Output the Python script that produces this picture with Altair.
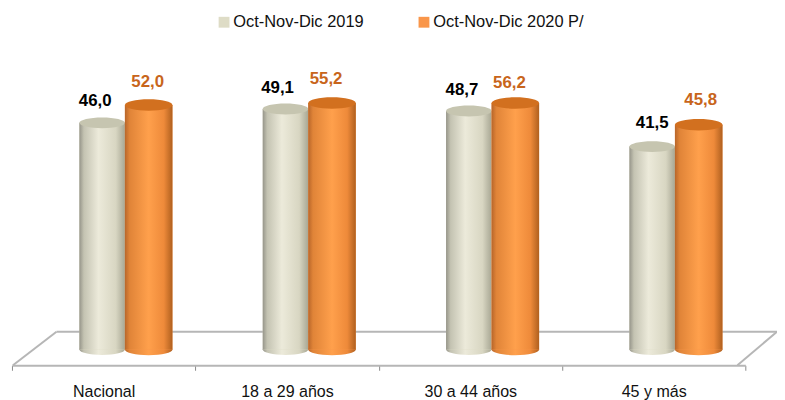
import altair as alt
import pandas as pd

categories = ["Nacional", "18 a 29 años", "30 a 44 años", "45 y más"]
series_a = "Oct-Nov-Dic 2019"
series_b = "Oct-Nov-Dic 2020 P/"
values_a = [46.0, 49.1, 48.7, 41.5]
values_b = [52.0, 55.2, 56.2, 45.8]
labels_a = ["46,0", "49,1", "48,7", "41,5"]
labels_b = ["52,0", "55,2", "56,2", "45,8"]

PW, PH = 777, 359
BASE_Y = 343
LINE = "#b6b6b6"
x_scale = alt.Scale(type="band", domain=categories, range=[4, 745], paddingInner=0, paddingOuter=0,
                    round=False, align=0.5)
# the picture's value axis is not linear: pixel heights are read from the drawn cylinders
y_scale = alt.Scale(domain=[0, 41.5, 45.8, 46, 48.7, 49.1, 52, 55.2, 56.2],
                    range=[BASE_Y, 138, 116, 114, 102, 100, 96, 94, 94])

a = pd.DataFrame({"cat": categories, "v": values_a, "label": labels_a, "s": series_a, "zero": 0})
b = pd.DataFrame({"cat": categories, "v": values_b, "label": labels_b, "s": series_b, "zero": 0})


def grad(stops):
    return alt.Gradient(gradient="linear", x1=0, x2=1, y1=0, y2=0,
                        stops=[alt.GradientStop(offset=o, color=c) for o, c in stops])


beige = grad([(0, "#96958a"), (0.1, "#c4c3b2"), (0.42, "#eceada"), (0.8, "#d8d6c2"), (1, "#a8a794")])
orange = grad([(0, "#b8662a"), (0.1, "#e08438"), (0.5, "#ffa04c"), (0.82, "#ee8a3a"), (1, "#b0601f")])
ELLIPSE = "M-1,0 A1,0.24 0 1,1 1,0 A1,0.24 0 1,1 -1,0 Z"

x_enc = alt.X("cat:N", scale=x_scale, sort=categories, title=None,
              axis=alt.Axis(labelAngle=0, tickBand="extent", domainColor=LINE, domainWidth=2,
                            tickColor="#8a8a8a", tickSize=5, labelColor="#111111", labelFontSize=16.2,
                            labelFont="Liberation Sans", labelPadding=14))
y_enc = alt.Y("v:Q", scale=y_scale, axis=None)
y0 = alt.Y2("zero:Q")

legend = alt.Legend(title=None, orient="none", legendX=210, legendY=4, direction="horizontal",
                    symbolType="square", symbolSize=120, labelFontSize=16.6, labelFont="Liberation Sans",
                    labelColor="#111111", columnPadding=52, labelOffset=1, symbolStrokeWidth=0)
color = alt.Color("s:N", scale=alt.Scale(domain=[series_a, series_b], range=["#dedcc6", "#f9964a"]), legend=legend)


def floor_line(x1, y1, x2, y2):
    return alt.Chart(pd.DataFrame({"k": [0]})).mark_rule(color=LINE, strokeWidth=2).encode(
        x=alt.value(x1), x2=alt.value(x2), y=alt.value(y1), y2=alt.value(y2))


def cyl(df, fill, cap, w, dx, tcolor, offsets):
    base = alt.Chart(df)
    layers = [
        base.mark_point(shape=ELLIPSE, size=w * w, filled=True, opacity=1, fill=fill, xOffset=dx,
                        strokeWidth=0).encode(x=x_enc, y=alt.Y("zero:Q", scale=y_scale, axis=None)),
        base.mark_bar(width=w, xOffset=dx).encode(x=x_enc, y=y_enc, y2=y0, color=color),
        base.mark_bar(width=w, xOffset=dx, fill=fill).encode(x=x_enc, y=y_enc, y2=y0),
        base.mark_point(shape=ELLIPSE, size=w * w, filled=True, opacity=1, fill=cap, xOffset=dx,
                        strokeWidth=0).encode(x=x_enc, y=y_enc),
    ]
    for i, (tdx, tdy) in enumerate(offsets):
        layers.append(
            alt.Chart(df.iloc[[i]]).mark_text(font="Liberation Sans", fontWeight="bold", fontSize=17,
                                              color=tcolor, dx=tdx, dy=tdy).encode(
                x=x_enc, y=y_enc, text="label:N"))
    return layers


offsets_a = [(-8.5, -22), (-9.5, -21), (-8.5, -21), (-1.5, -24)]
offsets_b = [(44.5, -23), (39.5, -24), (39.5, -20), (47.5, -25)]

chart = alt.layer(
    floor_line(49, 325, 777, 325),
    floor_line(5, 359, 49, 325),
    floor_line(737, 359, 777, 325),
    *cyl(a, beige, "#c6c5b0", 46, -1.5, "#000000", offsets_a),
    *cyl(b, orange, "#d2701f", 48, 45.5, "#c8651b", offsets_b),
).properties(width=PW, height=PH, padding={"left": 0, "top": 0, "right": 0, "bottom": 33},
             autosize=alt.AutoSizeParams(type="none")
).configure_view(stroke=None)

chart.save("out.html", embed_options={"renderer": "svg", "actions": False})
